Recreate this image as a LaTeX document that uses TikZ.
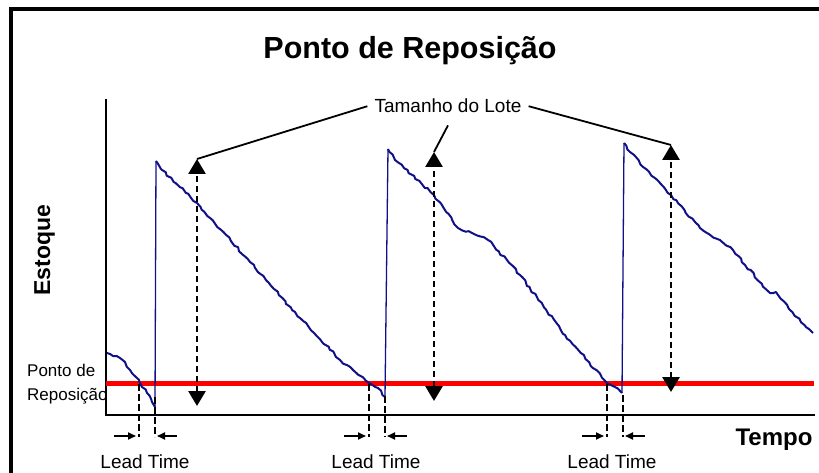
\documentclass[tikz,border=0pt]{standalone}
\usepackage{fontspec}
\setmainfont{Liberation Sans}
\usetikzlibrary{arrows.meta}
\usetikzlibrary{decorations.pathmorphing}
\definecolor{stocknavy}{HTML}{101088}
\definecolor{reorderred}{HTML}{FF0000}

\begin{document}
\begin{tikzpicture}[x=1pt,y=-1pt,every node/.style={inner sep=0pt},
  stock/.style={stocknavy,line width=2pt,line join=round,decorate,decoration={random steps,segment length=4pt,amplitude=1.1pt}},
  refill/.style={stocknavy,line width=1.3pt},
  lotarrow/.style={line width=2.8pt,dash pattern=on 6pt off 4pt,{Triangle[width=17pt,length=15pt]}-{Triangle[width=17pt,length=15pt]}},
  leadline/.style={line width=2.8pt,dash pattern=on 7pt off 3pt},
  leadarrow/.style={line width=1.8pt,-{Triangle[width=7pt,length=8pt]}},
  pointer/.style={line width=1.8pt},
  lbl/.style={font=\fontsize{19}{23}\selectfont}]

\useasboundingbox (0,0) rectangle (819,473);
\clip (0,0) rectangle (819,473);

% Frame
\draw[line width=3.2pt] (11,9) rectangle (840,495);

% Title
\node (title) at (410,59) [anchor=base,font=\bfseries\fontsize{30.5}{36}\selectfont] {Ponto de Reposição};

% Axes
\coordinate (origin) at (106,415);
\coordinate (ytop) at (106,99);
\coordinate (xend) at (815,415);
\draw[line width=1.8pt] (ytop) -- (origin) -- (xend);

\node (estoque) at (50,250) [anchor=base,rotate=90,font=\bfseries\fontsize{23}{27}\selectfont] {Estoque};
\node (tempo) at (774,445) [anchor=base,font=\bfseries\fontsize{24}{28}\selectfont] {Tempo};

% Reorder point
\coordinate (rpstart) at (106,383);
\coordinate (rpend) at (814,383);
\draw[reorderred,line width=5pt] (rpstart) -- (rpend);
\node (rplabel) at (27,384) [anchor=west,align=left,font=\fontsize{17}{24}\selectfont] {Ponto de\\Reposição};

% Stock level
\pgfmathsetseed{12}
\draw[stock] (107,353) -- (113,356) -- (120,358) -- (125,362) -- (130,370) -- (140,383) -- (147,393) -- (152,402) -- (155,407);
\draw[refill] (155,407) -- (156,161);
\draw[stock] (156,161) -- (162,170) -- (197,203) -- (250,262) -- (300,318) -- (340,360) -- (369,383) -- (378,388) -- (385,397);
\draw[refill] (385,397) -- (388,149);
\draw[stock] (388,149) -- (395,160) -- (434,195) -- (458,228) -- (488,240) -- (520,275) -- (565,335) -- (607,383) -- (615,387) -- (622,393);
\draw[refill] (622,393) -- (624,143);
\draw[stock] (624,143) -- (630,152) -- (671,195) -- (700,228) -- (733,250) -- (745,265) -- (770,293) -- (776,292) -- (790,310) -- (813,333);

% Lot size
\coordinate (lot1top) at (197,159);
\coordinate (lot1bot) at (197,406);
\coordinate (lot2top) at (434,152);
\coordinate (lot2bot) at (434,401);
\coordinate (lot3top) at (671,145);
\coordinate (lot3bot) at (671,392);
\draw[lotarrow] (lot1bot) -- (lot1top);
\draw[lotarrow] (lot2bot) -- (lot2top);
\draw[lotarrow] (lot3bot) -- (lot3top);

\node (lote) at (448,113) [anchor=base,lbl,inner sep=7pt] {Tamanho do Lote};
\draw[pointer] (lote.west) -- (lot1top);
\draw[pointer] ([yshift=-5pt]lote.south) -- (lot2top);
\draw[pointer] (lote.east) -- (lot3top);

% Lead times
\begin{scope}[xshift=139pt]
\draw[leadline] (0,384) -- (0,437);
\draw[leadline] (16,397) -- (16,437);
\draw[leadarrow] (-25,436) -- (-3,436);
\draw[leadarrow] (38,436) -- (18,436);
\node (lead1) at (6,468) [anchor=base,lbl] {Lead Time};
\end{scope}

\begin{scope}[xshift=369pt]
\draw[leadline] (0,384) -- (0,437);
\draw[leadline] (16,396) -- (16,437);
\draw[leadarrow] (-25,436) -- (-3,436);
\draw[leadarrow] (38,436) -- (18,436);
\node (lead2) at (7,468) [anchor=base,lbl] {Lead Time};
\end{scope}

\begin{scope}[xshift=607pt]
\draw[leadline] (0,384) -- (0,437);
\draw[leadline] (16,395) -- (16,437);
\draw[leadarrow] (-25,436) -- (-3,436);
\draw[leadarrow] (38,436) -- (18,436);
\node (lead3) at (5,468) [anchor=base,lbl] {Lead Time};
\end{scope}

\end{tikzpicture}
\end{document}
